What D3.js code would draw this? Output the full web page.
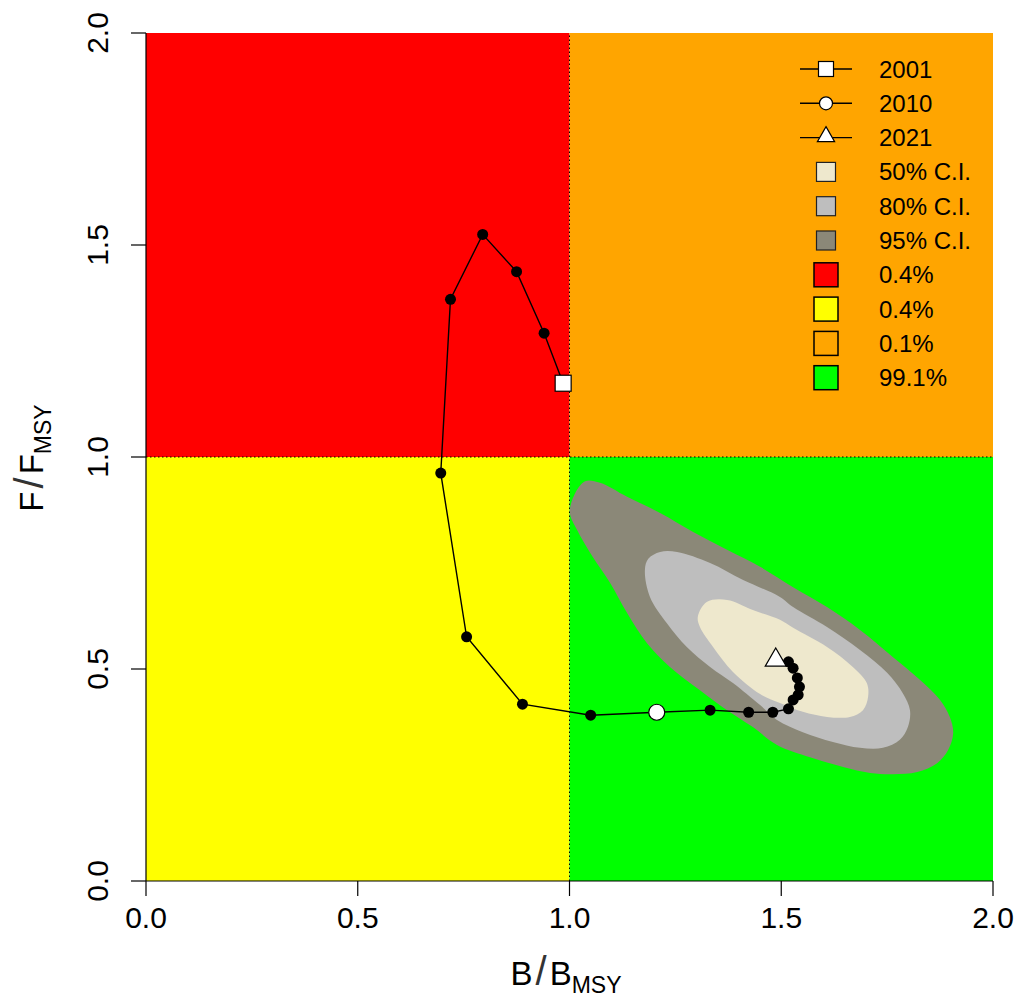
<!DOCTYPE html>
<html lang="en">
<head>
<meta charset="UTF-8" />
<title>Kobe plot</title>
<script src="https://d3js.org/d3.v7.min.js"></script>
<style>
  html, body { margin: 0; padding: 0; background: #fff; }
  svg { display: block; font-family: "Liberation Sans", Arial, sans-serif; }
  .tick-label { font-size: 30px; fill: #000; }
  .leg-label { font-size: 24px; fill: #000; }
</style>
</head>
<body>
<div id="chart"></div>
<script>
// trajectory B/Bmsy and F/Fmsy, 2001-2021
const years = d3.range(2001, 2022);
const bRatio = [0.985, 0.940, 0.875, 0.795, 0.719, 0.696, 0.757, 0.889, 1.050, 1.206,
                1.332, 1.423, 1.480, 1.517, 1.528, 1.540, 1.543, 1.538, 1.528, 1.517, 1.487];
const fRatio = [1.174, 1.292, 1.437, 1.525, 1.372, 0.962, 0.576, 0.417, 0.391, 0.398,
                0.403, 0.398, 0.398, 0.406, 0.427, 0.439, 0.458, 0.479, 0.502, 0.517, 0.521];

// confidence region outlines (B/Bmsy, F/Fmsy)
const ci95 = [[1.001,0.868],[1.011,0.910],[1.037,0.943],[1.072,0.939],[1.136,0.906],[1.214,0.868],
  [1.292,0.823],[1.372,0.781],[1.450,0.741],[1.528,0.693],[1.608,0.646],[1.686,0.592],[1.764,0.528],
  [1.828,0.474],[1.875,0.427],[1.898,0.387],[1.906,0.349],[1.894,0.309],[1.868,0.278],[1.821,0.257],
  [1.764,0.252],[1.710,0.255],[1.646,0.269],[1.568,0.292],[1.490,0.321],[1.433,0.363],[1.372,0.403],
  [1.308,0.450],[1.237,0.505],[1.183,0.561],[1.136,0.632],[1.096,0.703],[1.055,0.764],[1.018,0.828]];
const ci80 = [[1.178,0.733],[1.186,0.760],[1.214,0.776],[1.254,0.776],[1.332,0.750],[1.410,0.710],
  [1.497,0.670],[1.528,0.646],[1.608,0.599],[1.686,0.545],[1.750,0.491],[1.787,0.443],[1.804,0.403],
  [1.799,0.363],[1.780,0.333],[1.740,0.314],[1.686,0.314],[1.622,0.328],[1.551,0.351],[1.490,0.380],
  [1.450,0.415],[1.386,0.467],[1.332,0.505],[1.277,0.552],[1.230,0.608],[1.190,0.670]];
const ci50 = [[1.303,0.623],[1.324,0.658],[1.372,0.663],[1.433,0.639],[1.497,0.616],[1.528,0.597],
  [1.608,0.552],[1.669,0.505],[1.702,0.467],[1.705,0.434],[1.693,0.403],[1.662,0.387],[1.608,0.387],
  [1.551,0.399],[1.497,0.420],[1.450,0.441],[1.386,0.493],[1.339,0.552],[1.308,0.599]];

const ticks = [0, 0.5, 1, 1.5, 2];
const keyYears = ["2001", "2010", "2021"];
const ciLabels = ["50% C.I.", "80% C.I.", "95% C.I."];
const ciColors = ["#EEE8CD", "#BEBEBE", "#8B8878"];
const quadLabels = ["0.4%", "0.4%", "0.1%", "99.1%"];
const quadColors = ["#FF0000", "#FFFF00", "#FFA500", "#00FF00"];

const W = 1019, H = 1002;
const x = d3.scaleLinear().domain([0, 2]).range([146, 993]);
const y = d3.scaleLinear().domain([0, 2]).range([881, 33]);

const svg = d3.select("#chart").append("svg")
  .attr("width", W).attr("height", H);

// quadrants
const quads = [
  {x0: 0, x1: 1, y0: 1, y1: 2, c: quadColors[0]},
  {x0: 1, x1: 2, y0: 1, y1: 2, c: quadColors[2]},
  {x0: 0, x1: 1, y0: 0, y1: 1, c: quadColors[1]},
  {x0: 1, x1: 2, y0: 0, y1: 1, c: quadColors[3]}
];
svg.append("g").selectAll("rect").data(quads).join("rect")
  .attr("x", d => x(d.x0)).attr("y", d => y(d.y1))
  .attr("width", d => x(d.x1) - x(d.x0)).attr("height", d => y(d.y0) - y(d.y1))
  .attr("fill", d => d.c);

// CI regions
const area = d3.line().x(d => x(d[0])).y(d => y(d[1])).curve(d3.curveCatmullRomClosed);
[[ci95, ciColors[2]], [ci80, ciColors[1]], [ci50, ciColors[0]]].forEach(([pts, c]) => {
  svg.append("path").attr("d", area(pts)).attr("fill", c);
});

// reference lines
svg.append("line").attr("x1", x(1)).attr("x2", x(1)).attr("y1", y(0)).attr("y2", y(2))
  .attr("stroke", "#000").attr("stroke-width", 1).attr("stroke-dasharray", "1.5,2.5");
svg.append("line").attr("x1", x(0)).attr("x2", x(2)).attr("y1", y(1)).attr("y2", y(1))
  .attr("stroke", "#000").attr("stroke-width", 1).attr("stroke-dasharray", "1.5,2.5");

// trajectory
const traj = years.map((yr, i) => ({yr, b: bRatio[i], f: fRatio[i]}));
svg.append("path")
  .attr("d", d3.line().x(d => x(d.b)).y(d => y(d.f))(traj))
  .attr("fill", "none").attr("stroke", "#000").attr("stroke-width", 1.4);
svg.append("g").selectAll("circle")
  .data(traj.filter(d => d.yr !== 2001 && d.yr !== 2010 && d.yr !== 2021))
  .join("circle")
  .attr("cx", d => x(d.b)).attr("cy", d => y(d.f)).attr("r", 5.5).attr("fill", "#000");

function triPath(cx, cy, s) {
  const r = 1.555 * s, xc = 1.347 * s, yc = 0.778 * s;
  return `M${cx},${cy - r}L${cx + xc},${cy + yc}L${cx - xc},${cy + yc}Z`;
}
function drawMarker(g, kind, cx, cy, size) {
  if (kind === "square") {
    g.append("rect").attr("x", cx - size / 2).attr("y", cy - size / 2)
      .attr("width", size).attr("height", size)
      .attr("fill", "#fff").attr("stroke", "#000").attr("stroke-width", 1.2);
  } else if (kind === "circle") {
    g.append("circle").attr("cx", cx).attr("cy", cy).attr("r", size / 2)
      .attr("fill", "#fff").attr("stroke", "#000").attr("stroke-width", 1.2);
  } else {
    g.append("path").attr("d", triPath(cx, cy, size))
      .attr("fill", "#fff").attr("stroke", "#000").attr("stroke-width", 1.2);
  }
}
const first = traj[0], mid = traj[9], last = traj[20];
const mk = svg.append("g");
drawMarker(mk, "square", x(first.b), y(first.f), 16);
drawMarker(mk, "circle", x(mid.b), y(mid.f), 16);
drawMarker(mk, "triangle", x(last.b), y(last.f), 7.8);

// axes
const axG = svg.append("g").attr("stroke", "#000").attr("stroke-width", 1.2);
axG.append("line").attr("x1", x(0)).attr("x2", x(2)).attr("y1", y(0)).attr("y2", y(0));
axG.append("line").attr("x1", x(0)).attr("x2", x(0)).attr("y1", y(0)).attr("y2", y(2));
ticks.forEach(t => {
  axG.append("line").attr("x1", x(t)).attr("x2", x(t)).attr("y1", y(0)).attr("y2", y(0) + 15);
  axG.append("line").attr("x1", x(0) - 15).attr("x2", x(0)).attr("y1", y(t)).attr("y2", y(t));
});
svg.append("g").selectAll("text").data(ticks).join("text")
  .attr("class", "tick-label").attr("x", d => x(d)).attr("y", 928)
  .attr("text-anchor", "middle").text(d => d.toFixed(1));
svg.append("g").selectAll("text").data(ticks).join("text")
  .attr("class", "tick-label")
  .attr("transform", d => `translate(108,${y(d)}) rotate(-90)`)
  .attr("text-anchor", "middle").text(d => d.toFixed(1));

// axis titles (plotmath style: X / X[MSY])
function ratioTitle(t, sym) {
  t.append("tspan").text(sym);
  t.append("tspan").attr("dx", 3).attr("font-size", 40).attr("fill", "#333").text("/");
  t.append("tspan").attr("dx", 3).text(sym);
  t.append("tspan").attr("font-size", 23).attr("dy", 8).text("MSY");
}
ratioTitle(svg.append("text").attr("x", 566).attr("y", 985)
  .attr("text-anchor", "middle").attr("font-size", 33), "B");
ratioTitle(svg.append("text").attr("transform", "translate(43,458) rotate(-90)")
  .attr("text-anchor", "middle").attr("font-size", 33), "F");

// legend
const legY0 = 69, legStep = 34.3, symX = 826, txtX = 879;
const leg = svg.append("g");
const shapes = ["square", "circle", "triangle"];
const shapeSize = [15, 13, 6.4];
keyYears.forEach((lab, i) => {
  const cy = legY0 + i * legStep;
  leg.append("line").attr("x1", 800).attr("x2", 852).attr("y1", cy).attr("y2", cy)
    .attr("stroke", "#000").attr("stroke-width", 1.4);
  drawMarker(leg, shapes[i], symX, i === 2 ? cy - 1 : cy, shapeSize[i]);
});
ciLabels.forEach((lab, i) => {
  const cy = legY0 + (i + 3) * legStep;
  leg.append("rect").attr("x", symX - 9.5).attr("y", cy - 9.5).attr("width", 19).attr("height", 19)
    .attr("fill", ciColors[i]).attr("stroke", "#222").attr("stroke-width", 1.2);
});
quadLabels.forEach((lab, i) => {
  const cy = legY0 + (i + 6) * legStep;
  leg.append("rect").attr("x", symX - 12).attr("y", cy - 12).attr("width", 24).attr("height", 24)
    .attr("fill", quadColors[i]).attr("stroke", "#000").attr("stroke-width", 1.5);
});
const allLabels = keyYears.concat(ciLabels, quadLabels);
leg.selectAll("text.leg-label").data(allLabels).join("text")
  .attr("class", "leg-label").attr("x", txtX)
  .attr("y", (d, i) => legY0 + i * legStep + 8.5).text(d => d);
</script>
</body>
</html>
